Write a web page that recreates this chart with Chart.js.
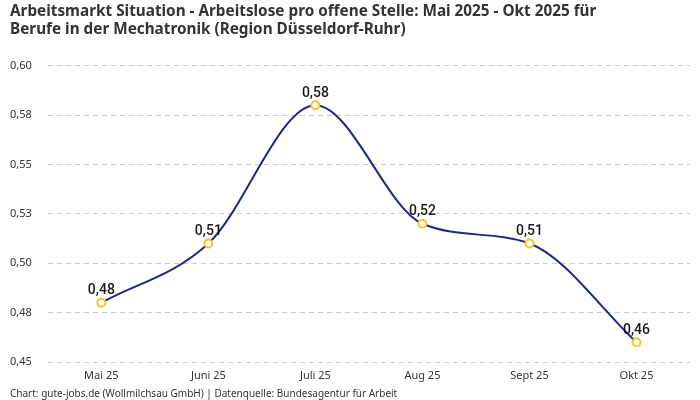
<!DOCTYPE html>
<html>
<head>
<meta charset="utf-8">
<script src="https://cdn.jsdelivr.net/npm/chart.js@4.4.1/dist/chart.umd.min.js"></script>
<style>
  html, body { margin: 0; padding: 0; background: #fff; }
  #wrap { width: 700px; height: 400px; }
</style>
</head>
<body>
<div id="wrap"><canvas id="arbeitsmarktChart" width="700" height="400"></canvas></div>
<script>
const months = ['Mai 25', 'Juni 25', 'Juli 25', 'Aug 25', 'Sept 25', 'Okt 25'];
const ratio = [0.48, 0.51, 0.58, 0.52, 0.51, 0.46];
const yTicks = [0.45, 0.475, 0.5, 0.525, 0.55, 0.575, 0.6];
const yTickLabels = ['0,45', '0,48', '0,50', '0,53', '0,55', '0,58', '0,60'];

const FONT = '"Noto Sans", Roboto, sans-serif';

// draws the value above each point
const pointLabels = {
    id: 'pointLabels',
    afterDatasetsDraw(chart) {
        const c = chart.ctx;
        const meta = chart.getDatasetMeta(0);
        c.save();
        c.font = '500 14px Roboto, sans-serif';
        c.fillStyle = '#1a1a1a';
        c.textAlign = 'center';
        c.textBaseline = 'bottom';
        meta.data.forEach((pt, i) => {
            const txt = ratio[i].toFixed(2).replace('.', ',');
            c.fillText(txt, pt.x, pt.y - 5);
        });
        c.restore();
    }
};

const ctx = document.getElementById('arbeitsmarktChart');
new Chart(ctx, {
    type: 'line',
    data: {
        labels: months,
        datasets: [{
            data: ratio,
            borderColor: '#1b2a8a',
            borderWidth: 2,
            cubicInterpolationMode: 'monotone',
            pointRadius: 4,
            pointBorderWidth: 2,
            pointBackgroundColor: '#ffffff',
            pointBorderColor: '#f7c325',
            fill: false
        }]
    },
    options: {
        responsive: false,
        animation: false,
        layout: { padding: { left: 10, right: 10, top: 2, bottom: 0 } },
        plugins: {
            legend: { display: false },
            tooltip: { enabled: false },
            title: {
                display: true,
                align: 'start',
                text: ['Arbeitsmarkt Situation - Arbeitslose pro offene Stelle: Mai 2025 - Okt 2025 für',
                       'Berufe in der Mechatronik (Region Düsseldorf-Ruhr)'],
                color: '#333333',
                font: { family: FONT, size: 15.3, weight: 'bold', lineHeight: 1.2 },
                padding: { top: 0, bottom: 27 }
            },
            subtitle: {
                display: true,
                position: 'bottom',
                align: 'start',
                text: 'Chart: gute-jobs.de (Wollmilchsau GmbH) | Datenquelle: Bundesagentur für Arbeit',
                color: '#333333',
                font: { family: FONT, size: 10, lineHeight: 1.0 },
                padding: { top: 0, bottom: 1 }
            }
        },
        scales: {
            x: {
                offset: true,
                grid: { display: false, drawTicks: false },
                border: { display: false },
                ticks: { color: '#333333', font: { family: FONT, size: 11, lineHeight: 1.0 }, padding: 8 }
            },
            y: {
                min: 0.45,
                max: 0.6,
                afterBuildTicks: (scale) => {
                    scale.ticks = yTicks.map(v => ({ value: v }));
                },
                grid: { color: '#cccccc', drawTicks: false },
                border: { display: false, dash: [5, 4] },
                ticks: {
                    color: '#333333',
                    font: { family: FONT, size: 11 },
                    padding: 8,
                    crossAlign: 'far',
                    callback: (v, i) => yTickLabels[i]
                }
            }
        }
    },
    plugins: [pointLabels]
});
</script>
</body>
</html>
